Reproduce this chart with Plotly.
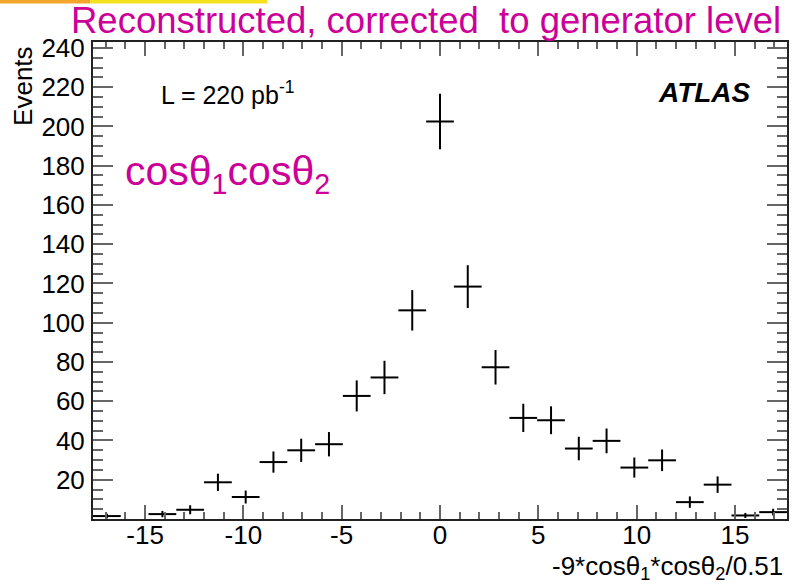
import numpy as np
import plotly.graph_objects as go

# ---- data ----
X_MIN, X_MAX, N_BINS = -9 / 0.51, 9 / 0.51, 25
events = [1.5, None, 2.5, 4.7, 18.7, 11.2, 29.0, 35.0, 38.1, 62.7, 72.1, 106.3,
          202.5, 118.4, 77.3, 51.5, 50.3, 35.9, 39.8, 26.2, 29.9, 8.6, 17.5, 1.8, 3.5]
errors = [1.2, None, 1.6, 2.3, 4.4, 3.3, 5.4, 5.9, 6.2, 7.9, 8.5, 10.3,
          14.2, 10.9, 8.8, 7.2, 7.1, 6.0, 6.3, 5.1, 5.5, 2.9, 4.2, 1.3, 1.7]
x_tickvals = [-15, -10, -5, 0, 5, 10, 15]
x_ticktext = ["-15", "-10", "-5", "0", "5", "10", "15"]
y_tickvals = [20, 40, 60, 80, 100, 120, 140, 160, 180, 200, 220, 240]

edges = np.linspace(X_MIN, X_MAX, N_BINS + 1)
centers = 0.5 * (edges[:-1] + edges[1:])
half_w = 0.5 * (edges[1:] - edges[:-1])

FONT = "Liberation Sans, Arial, sans-serif"
MAGENTA = "#CC0099"

fig = go.Figure()
fig.add_trace(go.Scatter(
    x=centers, y=events, mode="markers",
    marker=dict(size=1, color="black"),
    error_x=dict(type="data", array=half_w, width=0, thickness=2, color="black"),
    error_y=dict(type="data", array=errors, width=0, thickness=2, color="black"),
    showlegend=False, hoverinfo="x+y",
))

fig.update_layout(
    width=803, height=585,
    margin=dict(l=93, r=16, t=42, b=66),
    paper_bgcolor="white", plot_bgcolor="white",
    font=dict(family=FONT, size=26, color="black"),
    xaxis=dict(
        range=[X_MIN, X_MAX], showgrid=False, zeroline=False,
        tickmode="array", tickvals=x_tickvals, ticktext=x_ticktext,
        ticks="inside", ticklen=14, tickwidth=1.5, tickcolor="#666",
        minor=dict(dtick=1, tick0=0, ticks="inside", ticklen=7, tickwidth=1.5, tickcolor="#666"),
        showline=True, linecolor="#222", linewidth=2, mirror="allticks",
        tickfont=dict(size=26), ticklabelstandoff=-8,
    ),
    yaxis=dict(
        range=[0, 243], showgrid=False, zeroline=False,
        tickmode="array", tickvals=y_tickvals,
        ticks="inside", ticklen=20, tickwidth=1.5, tickcolor="#666",
        minor=dict(dtick=5, tick0=0, ticks="inside", ticklen=10, tickwidth=1.5, tickcolor="#666"),
        showline=True, linecolor="#222", linewidth=2, mirror="allticks",
        tickfont=dict(size=26), ticklabelstandoff=1,
    ),
    shapes=[
        dict(type="rect", xref="paper", yref="paper", x0=-0.134, x1=-0.004,
             y0=(519 - 3.5) / 477, y1=(519 - 0) / 477, fillcolor="#F4A62A", line_width=0),
        dict(type="rect", xref="paper", yref="paper", x0=-0.004, x1=(267 - 93) / 694,
             y0=(519 - 3.5) / 477, y1=(519 - 0) / 477, fillcolor="#F6E21C", line_width=0),
    ],
    annotations=[
        dict(text="Reconstructed, corrected  to generator level", xref="paper", yref="paper",
             x=(69 - 93) / 694, y=(519 - 20) / 477, xanchor="left", yanchor="middle",
             showarrow=False, font=dict(size=36.5, color=MAGENTA)),
        dict(text="Events", xref="paper", yref="paper", x=(23 - 93) / 694, y=0.996,
             xanchor="center", yanchor="top", textangle=-90, showarrow=False,
             font=dict(size=26)),
        dict(text="L = 220 pb<sup>-1</sup>", xref="paper", yref="paper",
             x=(159 - 93) / 694, y=(519 - 93) / 477, xanchor="left", yanchor="middle",
             showarrow=False, font=dict(size=25)),
        dict(text="<b><i>ATLAS</i></b>", xref="paper", yref="paper",
             x=(753 - 93) / 694, y=(519 - 92) / 477, xanchor="right", yanchor="middle",
             showarrow=False, font=dict(size=28)),
        dict(text="cosθ<sub>1</sub>cosθ<sub>2</sub>", xref="paper", yref="paper",
             x=(123 - 93) / 694, y=(519 - 174) / 477, xanchor="left", yanchor="middle",
             showarrow=False, font=dict(size=41, color=MAGENTA)),
        dict(text="-9*cosθ<sub>1</sub>*cosθ<sub>2</sub>/0.51", xref="paper", yref="paper",
             x=(785 - 93) / 694, y=(519 - 567) / 477, xanchor="right", yanchor="middle",
             showarrow=False, font=dict(size=26)),
    ],
)

fig.write_html("out.html")
